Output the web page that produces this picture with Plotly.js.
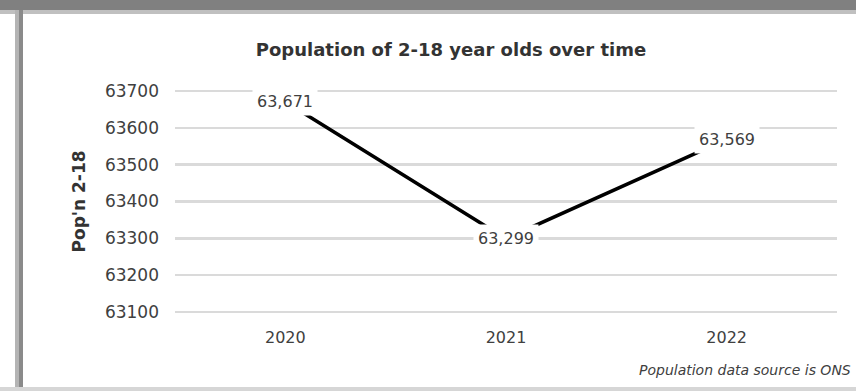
<!DOCTYPE html>
<html>
<head>
<meta charset="utf-8">
<script src="https://cdn.plot.ly/plotly-3.0.1.min.js"></script>
<style>
  html, body { margin: 0; padding: 0; background: #ffffff; }
  #wrap { position: relative; width: 856px; height: 391px; overflow: hidden; }
  #chart { position: absolute; left: 0; top: 0; width: 856px; height: 391px; }
  .bar { position: absolute; }
</style>
</head>
<body>
<div id="wrap">
  <div id="chart"></div>
  <div class="bar" style="left:0;top:0;width:856px;height:10px;background:#808080;"></div>
  <div class="bar" style="left:0;top:10px;width:856px;height:4px;background:#c0c0c0;"></div>
  <div class="bar" style="left:15px;top:10px;width:4px;height:381px;background:#b4b4b4;"></div>
  <div class="bar" style="left:19px;top:10px;width:4px;height:381px;background:#8a8a8a;"></div>
  <div class="bar" style="left:0;top:387px;width:856px;height:4px;background:#d6d6d6;"></div>
</div>
<script>
// ---- data ----
const years = ["2020", "2021", "2022"];
const population = [63671, 63299, 63569];
const dataLabels = ["63,671", "63,299", "63,569"];
const yTickValues = [63100, 63200, 63300, 63400, 63500, 63600, 63700];
const yTickLabels = ["63100", "63200", "63300", "63400", "63500", "63600", "63700"];
const chartTitle = "Population of 2-18 year olds over time";
const yAxisTitle = "Pop'n 2-18";
const sourceNote = "Population data source is ONS";

const FONT = "DejaVu Sans, Liberation Sans, Arial, sans-serif";
const TXT = "#404040";

const trace = {
  type: "scatter",
  mode: "lines",
  x: years,
  y: population,
  line: { color: "#000000", width: 3.5 },
  hoverinfo: "skip"
};

// category axis: annotations positioned by category index
const labelAnnotations = years.map((yr, i) => ({
  x: i, y: population[i], xref: "x", yref: "y",
  text: dataLabels[i], showarrow: false,
  bgcolor: "#ffffff", borderpad: 4,
  font: { family: FONT, size: 16, color: TXT }
}));

const layout = {
  width: 856, height: 391,
  margin: { l: 175, r: 19, t: 90, b: 78, pad: 0 },
  paper_bgcolor: "#ffffff",
  plot_bgcolor: "#ffffff",
  showlegend: false,
  title: {
    text: "<b>" + chartTitle + "</b>",
    font: { family: FONT, size: 18, color: "#333333" },
    x: 451 / 856, xanchor: "center", xref: "container",
    y: 1 - 50 / 391, yanchor: "middle", yref: "container"
  },
  xaxis: {
    type: "category",
    range: [-0.5, 2.5],
    showgrid: false, zeroline: false, showline: false,
    ticks: "", ticklabelstandoff: 13,
    tickfont: { family: FONT, size: 16, color: TXT },
    fixedrange: true
  },
  yaxis: {
    range: [63097, 63703],
    tickvals: yTickValues, ticktext: yTickLabels,
    showgrid: true, gridcolor: "#dadada", gridwidth: 2.5,
    zeroline: false, showline: false,
    ticks: "", ticklabelstandoff: 15,
    tickfont: { family: FONT, size: 17, color: TXT },
    fixedrange: true
  },
  annotations: labelAnnotations.concat([
    {
      xref: "paper", yref: "paper", x: 0, y: 0.5, xshift: -97,
      xanchor: "center", yanchor: "middle", textangle: -90,
      text: "<b>" + yAxisTitle + "</b>", showarrow: false,
      font: { family: FONT, size: 17, color: "#333333" }
    },
    {
      xref: "paper", yref: "paper", x: 1, y: 0, xshift: 16, yshift: -57,
      xanchor: "right", yanchor: "middle",
      text: "<i>" + sourceNote + "</i>", showarrow: false,
      font: { family: FONT, size: 14, color: TXT }
    }
  ])
};

Plotly.newPlot("chart", [trace], layout, { displayModeBar: false, staticPlot: true });
</script>
</body>
</html>
